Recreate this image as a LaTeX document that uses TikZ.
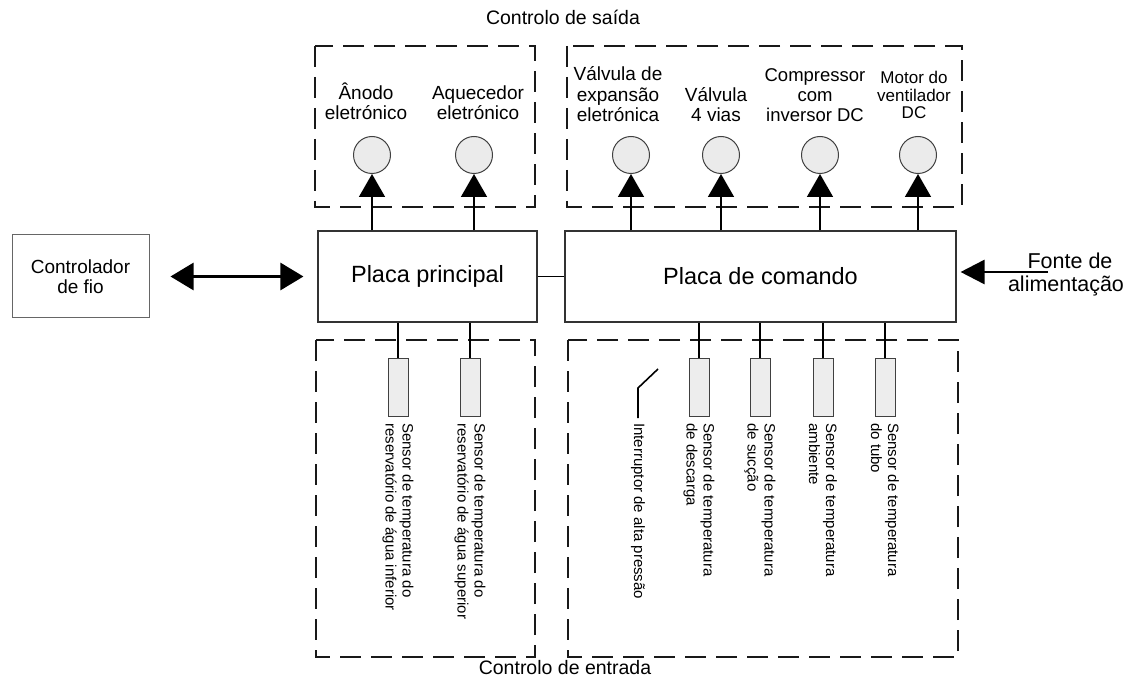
\documentclass[tikz,border=0pt]{standalone}
\usepackage{fontspec}
\setmainfont{Liberation Sans}
\usetikzlibrary{arrows.meta,shapes.geometric}

\tikzset{
  group/.style={draw=black!90, line width=2.8pt, dash pattern=on 21pt off 10pt},
  board/.style={draw=black!80, line width=1.1pt, minimum height=91pt, inner sep=0pt,
                font=\fontsize{23.5}{26}\selectfont},
  lamp/.style={circle, draw=black!75, line width=1pt, fill=black!8,
               minimum size=37pt, inner sep=0pt},
  probe/.style={draw=black!75, line width=1pt, fill=black!7,
                minimum width=20pt, minimum height=58pt, inner sep=0pt},
  outlbl/.style={align=center, anchor=base, inner sep=0pt,
                 font=\fontsize{19}{20.5}\selectfont},
  inlbl/.style={rotate=-90, anchor=west, align=left, inner sep=0pt,
                font=\fontsize{15}{17}\selectfont},
  feed/.style={line width=1.6pt, -{Triangle[length=23pt,width=26pt]}},
  wire/.style={line width=1.6pt},
  bigarrow/.style={line width=2.7pt},
  title/.style={font=\fontsize{19.5}{22}\selectfont, inner sep=0pt}
}

\begin{document}
\begin{tikzpicture}[x=1pt,y=-1pt]
\useasboundingbox (0,0) rectangle (1128,679);

% group frames
\draw[group] (315,46) rectangle (535,207);
\draw[group] (567,46) rectangle (962,207);
\draw[group] (316,340) rectangle (535,657);
\draw[group] (568,340) rectangle (958,657);

\node[title] (tout) at (563,17) {Controlo de saída};
\node[title] (tin) at (565,668) {Controlo de entrada};

% boards
\node[board, minimum width=219pt] (main) at (427.5,276.5) {Placa principal};
\node[board, minimum width=391pt] (cmd) at (760.5,276.5) {Placa de comando};
\draw[wire] (main.east) -- (cmd.west);

% wired controller
\node[draw=black!60, line width=1pt, minimum width=137pt, minimum height=83pt,
      align=center, font=\fontsize{19}{20}\selectfont] (ctrl) at (80.5,276.5) {Controlador\\de fio};
\draw[bigarrow, {Triangle[length=23pt,width=27pt]}-{Triangle[length=23pt,width=27pt]},
      shorten <=21pt, shorten >=14pt] (ctrl.east) -- (main.west);

% power supply
\node[align=center, anchor=base, font=\fontsize{21.5}{23.5}\selectfont, inner sep=0pt] (psu) at (1066,292) {\hspace*{8pt}Fonte de\\alimentação};
\coordinate (psuin) at (1048,272);
\draw[bigarrow, -{Triangle[length=24pt,width=24pt]}, shorten >=4pt] (psuin) -- (cmd.east |- psuin);

% output loads
\node[lamp] (l1) at (372,155) {};
\node[lamp] (l2) at (474,155) {};
\node[lamp] (l3) at (631,155) {};
\node[lamp] (l4) at (721,155) {};
\node[lamp] (l5) at (820,155) {};
\node[lamp] (l6) at (918,155) {};

\node[outlbl] (t1) at (366,120) {Ânodo\\eletrónico};
\node[outlbl] (t2) at (478,120) {Aquecedor\\eletrónico};
\node[outlbl] (t3) at (618,122) {Válvula de\\expansão\\eletrónica};
\node[outlbl] (t4) at (716,122) {Válvula\\4 vias};
\node[outlbl, font=\fontsize{18.5}{20}\selectfont] (t5) at (815,122) {Compressor\\com\\inversor DC};
\node[outlbl, font=\fontsize{17}{17.5}\selectfont] (t6) at (914,119) {Motor do\\ventilador\\DC};

\foreach \l in {l1,l2} \draw[feed] (main.north -| \l) -- (\l.south);
\foreach \l in {l3,l4,l5,l6} \draw[feed] (cmd.north -| \l) -- (\l.south);

% input sensors
\node[probe] (s1) at (398,387) {};
\node[probe] (s2) at (470,387) {};
\node[probe] (s3) at (699,387) {};
\node[probe] (s4) at (760,387) {};
\node[probe] (s5) at (823,387) {};
\node[probe] (s6) at (885,387) {};

\foreach \s in {s1,s2} \draw[wire] (main.south -| \s) -- (\s.north);
\foreach \s in {s3,s4,s5,s6} \draw[wire] (cmd.south -| \s) -- (\s.north);

\node[inlbl] (r1) at (398,423) {Sensor de temperatura do\\reservatório de água inferior};
\node[inlbl] (r2) at (470,423) {Sensor de temperatura do\\reservatório de água superior};
\node[inlbl] (r3) at (699,423) {Sensor de temperatura\\de descarga};
\node[inlbl] (r4) at (760,423) {Sensor de temperatura\\de sucção};
\node[inlbl] (r5) at (823,423) {Sensor de temperatura\\ambiente};
\node[inlbl] (r6) at (885,423) {Sensor de temperatura\\do tubo};

% high pressure switch
\coordinate (swa) at (638,418);
\coordinate (swb) at (638,388);
\coordinate (swc) at (658,369);
\draw[wire] (swa) -- (swb) -- (swc);
\node[inlbl] (r0) at (638,423) {Interruptor de alta pressão};

\end{tikzpicture}
\end{document}
